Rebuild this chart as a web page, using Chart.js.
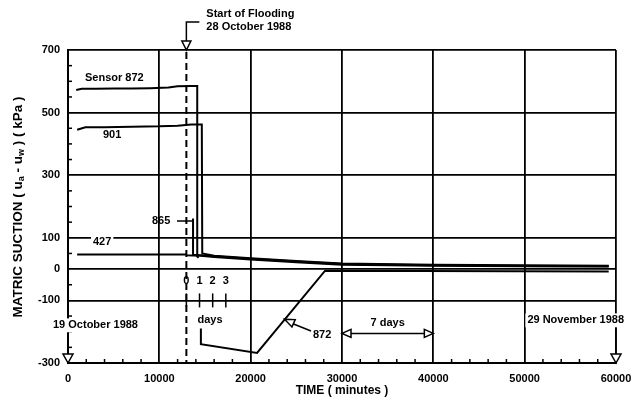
<!DOCTYPE html>
<html>
<head>
<meta charset="utf-8">
<script src="https://cdn.jsdelivr.net/npm/chart.js@4/dist/chart.umd.min.js"></script>
<style>
  html, body { margin: 0; padding: 0; background: #fff; }
  canvas { display: block; }
</style>
</head>
<body>
<canvas id="chart" width="633" height="404"></canvas>
<script>
// Axis ticks
const xTicks = [0, 10000, 20000, 30000, 40000, 50000, 60000];
const yTicks = [-300, -100, 0, 100, 300, 500, 700];

// Flooding started 9 days (12960 min) after 19 October 1988
const floodStart = 12960;
const dayMarks = [0, 1, 2, 3];
const minutesPerDay = 1440;

// Sensor readings: [time (min), matric suction (kPa)]; null = no reading
const sensor872 = [
  [900, 572], [1500, 576], [3000, 576], [5000, 577], [7000, 577], [9000, 578],
  [11000, 580], [12000, 584], [13500, 585], [14150, 585], [14150, 40], [14300, 36],
  [14400, null],
  [14550, -190], [14550, -240], [20700, -268], [28150, -5], [59200, -8]
];
const sensor901 = [
  [1000, 445], [1900, 453], [4000, 453], [7000, 455], [10000, 456], [12000, 458],
  [13500, 462], [14650, 462], [14700, 50], [16000, 43], [20000, 35], [25000, 26],
  [30000, 18], [40000, 14], [50000, 12], [59200, 11]
];
const sensor865 = [
  [13690, 162], [13690, 46], [14500, 44], [16000, 41], [20000, 33], [25000, 24],
  [30000, 16], [40000, 12], [50000, 10], [59200, 9]
];
const sensor427 = [
  [1000, 47], [12900, 47], [13000, 44], [14500, 43], [16000, 39], [20000, 31],
  [25000, 22], [30000, 14], [40000, 11], [50000, 9], [59200, 8]
];

const FONT = '"Liberation Sans", Arial, Helvetica, sans-serif';
const bold = size => 'bold ' + size + 'px ' + FONT;

function toPoints(rows) {
  return rows.map(([x, y]) => ({ x: x, y: y }));
}

function seriesStyle(rows, label) {
  return {
    label: label,
    data: toPoints(rows),
    showLine: true,
    borderColor: '#000',
    borderWidth: 2,
    pointRadius: 0,
    tension: 0,
    spanGaps: false
  };
}

function line(ctx, x1, y1, x2, y2) {
  ctx.beginPath();
  ctx.moveTo(x1, y1);
  ctx.lineTo(x2, y2);
  ctx.stroke();
}

// open (white-filled) arrow head, tip at (tx, ty), pointing along (dx, dy)
function openHead(ctx, tx, ty, dx, dy, len, half) {
  const n = Math.hypot(dx, dy);
  dx /= n; dy /= n;
  const bx = tx - dx * len, by = ty - dy * len;
  const nx = -dy, ny = dx;
  ctx.beginPath();
  ctx.moveTo(tx, ty);
  ctx.lineTo(bx + nx * half, by + ny * half);
  ctx.lineTo(bx - nx * half, by - ny * half);
  ctx.closePath();
  ctx.fillStyle = '#fff';
  ctx.fill();
  ctx.stroke();
}

function text(ctx, str, x, y, align, withBg) {
  ctx.font = bold(11);
  ctx.textAlign = align || 'left';
  ctx.textBaseline = 'middle';
  if (withBg) {
    const w = ctx.measureText(str).width;
    const lx = align === 'center' ? x - w / 2 : align === 'right' ? x - w : x;
    ctx.fillStyle = '#fff';
    ctx.fillRect(lx - 2, y - 7, w + 4, 14);
  }
  ctx.fillStyle = '#000';
  ctx.fillText(str, x, y);
}

const annotations = {
  id: 'annotations',
  afterDraw(chart) {
    const ctx = chart.ctx;
    const ca = chart.chartArea;
    const X = v => chart.scales.x.getPixelForValue(v);
    const Y = v => chart.scales.y.getPixelForValue(v);
    ctx.save();
    ctx.strokeStyle = '#000';
    ctx.lineWidth = 1.5;

    // minor ticks along the bottom and left edges
    for (let t = 2000; t < 60000; t += 2000) {
      if (t % 10000 === 0) continue;
      line(ctx, X(t), ca.bottom, X(t), ca.bottom - 4);
    }
    for (let v = -250; v < 700; v += 50) {
      if (yTicks.includes(v)) continue;
      line(ctx, ca.left, Y(v), ca.left + 4, Y(v));
    }

    // start of flooding
    const fx = X(floodStart);
    ctx.lineWidth = 2;
    ctx.setLineDash([7, 4]);
    line(ctx, fx, ca.top + 2, fx, ca.bottom);
    ctx.setLineDash([]);
    ctx.lineWidth = 1.5;
    ctx.beginPath();
    ctx.moveTo(fx + 13, 22);
    ctx.lineTo(fx, 22);
    ctx.lineTo(fx, ca.top - 9);
    ctx.stroke();
    openHead(ctx, fx, ca.top, 0, 1, 9, 4.5);
    text(ctx, 'Start of Flooding', fx + 20, 14);
    text(ctx, '28 October 1988', fx + 20, 27);

    // day scale after flooding
    const dy = Y(-100);
    dayMarks.forEach(d => {
      const dx = X(floodStart + d * minutesPerDay);
      line(ctx, dx, dy - 7, dx, dy + 7);
      text(ctx, String(d), dx, dy - 19, 'center');
    });
    text(ctx, 'days', X(floodStart + minutesPerDay) - 2, dy + 20);

    // start and end dates
    text(ctx, '19 October 1988', 53, dy + 25, 'left', true);
    line(ctx, ca.left, dy + 32, ca.left, ca.bottom - 9);
    openHead(ctx, ca.left, ca.bottom, 0, 1, 9, 5);
    text(ctx, '29 November 1988', 624, dy + 20, 'right', true);
    line(ctx, ca.right, dy + 27, ca.right, ca.bottom - 9);
    openHead(ctx, ca.right, ca.bottom, 0, 1, 9, 5);

    // 7-day span
    const ay = dy + 33;
    text(ctx, '7 days', X(35000), dy + 23, 'center');
    line(ctx, X(30000) + 8, ay, X(40000) - 8, ay);
    openHead(ctx, X(30000), ay, -1, 0, 9, 4);
    openHead(ctx, X(40000), ay, 1, 0, 9, 4);

    // sensor labels
    text(ctx, 'Sensor 872', 85, 78);
    text(ctx, '901', 103, 135);
    text(ctx, '865', 152, 221);
    line(ctx, 177, 221, X(13690), 221);
    text(ctx, '427', 93, 242, 'left', true);

    const tipX = X(23700), tipY = Y(-160);
    line(ctx, tipX + 6, tipY + 3.5, 311, 331);
    openHead(ctx, tipX, tipY, -(311 - tipX), -(331 - tipY), 10, 4);
    text(ctx, '872', 313, 335);

    // y-axis title with subscripts
    ctx.translate(18, 207);
    ctx.rotate(-Math.PI / 2);
    const parts = [['MATRIC SUCTION ( u', 0], ['a', 1], [' - u', 0], ['w', 1], [' ) ( kPa )', 0]];
    const fontFor = sub => sub ? bold(9) : bold(13.5);
    let total = 0;
    parts.forEach(([s, sub]) => { ctx.font = fontFor(sub); total += ctx.measureText(s).width; });
    let px = -total / 2;
    ctx.textAlign = 'left';
    ctx.textBaseline = 'middle';
    ctx.fillStyle = '#000';
    parts.forEach(([s, sub]) => {
      ctx.font = fontFor(sub);
      ctx.fillText(s, px, sub ? 4 : 0);
      px += ctx.measureText(s).width;
    });
    ctx.restore();
  }
};

new Chart(document.getElementById('chart'), {
  type: 'scatter',
  data: {
    datasets: [
      seriesStyle(sensor872, 'Sensor 872'),
      seriesStyle(sensor901, 'Sensor 901'),
      seriesStyle(sensor865, 'Sensor 865'),
      seriesStyle(sensor427, 'Sensor 427')
    ]
  },
  options: {
    responsive: false,
    animation: false,
    layout: { padding: { top: 50, right: 17, left: 0, bottom: 0 } },
    plugins: { legend: { display: false }, tooltip: { enabled: false } },
    scales: {
      x: {
        type: 'linear',
        min: 0,
        max: 60000,
        afterBuildTicks: s => { s.ticks = xTicks.map(v => ({ value: v })); },
        afterFit: s => { s.height = 41; s.paddingLeft = 0; s.paddingRight = 0; },
        grid: { color: '#000', lineWidth: 1.8, drawTicks: false },
        border: { display: true, color: '#000', width: 2 },
        ticks: {
          padding: 9,
          color: '#000',
          font: { family: FONT, size: 11, weight: 'bold' },
          callback: v => String(v),
          maxRotation: 0
        },
        title: {
          display: true,
          text: 'TIME ( minutes )',
          color: '#000',
          font: { family: FONT, size: 12, weight: 'bold' },
          padding: { top: 0, bottom: 6 }
        }
      },
      y: {
        type: 'linear',
        min: -300,
        max: 700,
        afterBuildTicks: s => { s.ticks = yTicks.map(v => ({ value: v })); },
        afterFit: s => { s.width = 68; s.paddingTop = 0; s.paddingBottom = 0; },
        grid: { color: '#000', lineWidth: 1.8, drawTicks: false },
        border: { display: true, color: '#000', width: 2 },
        ticks: {
          padding: 8,
          color: '#000',
          font: { family: FONT, size: 11, weight: 'bold' },
          callback: v => String(v)
        }
      }
    }
  },
  plugins: [annotations]
});
</script>
</body>
</html>
